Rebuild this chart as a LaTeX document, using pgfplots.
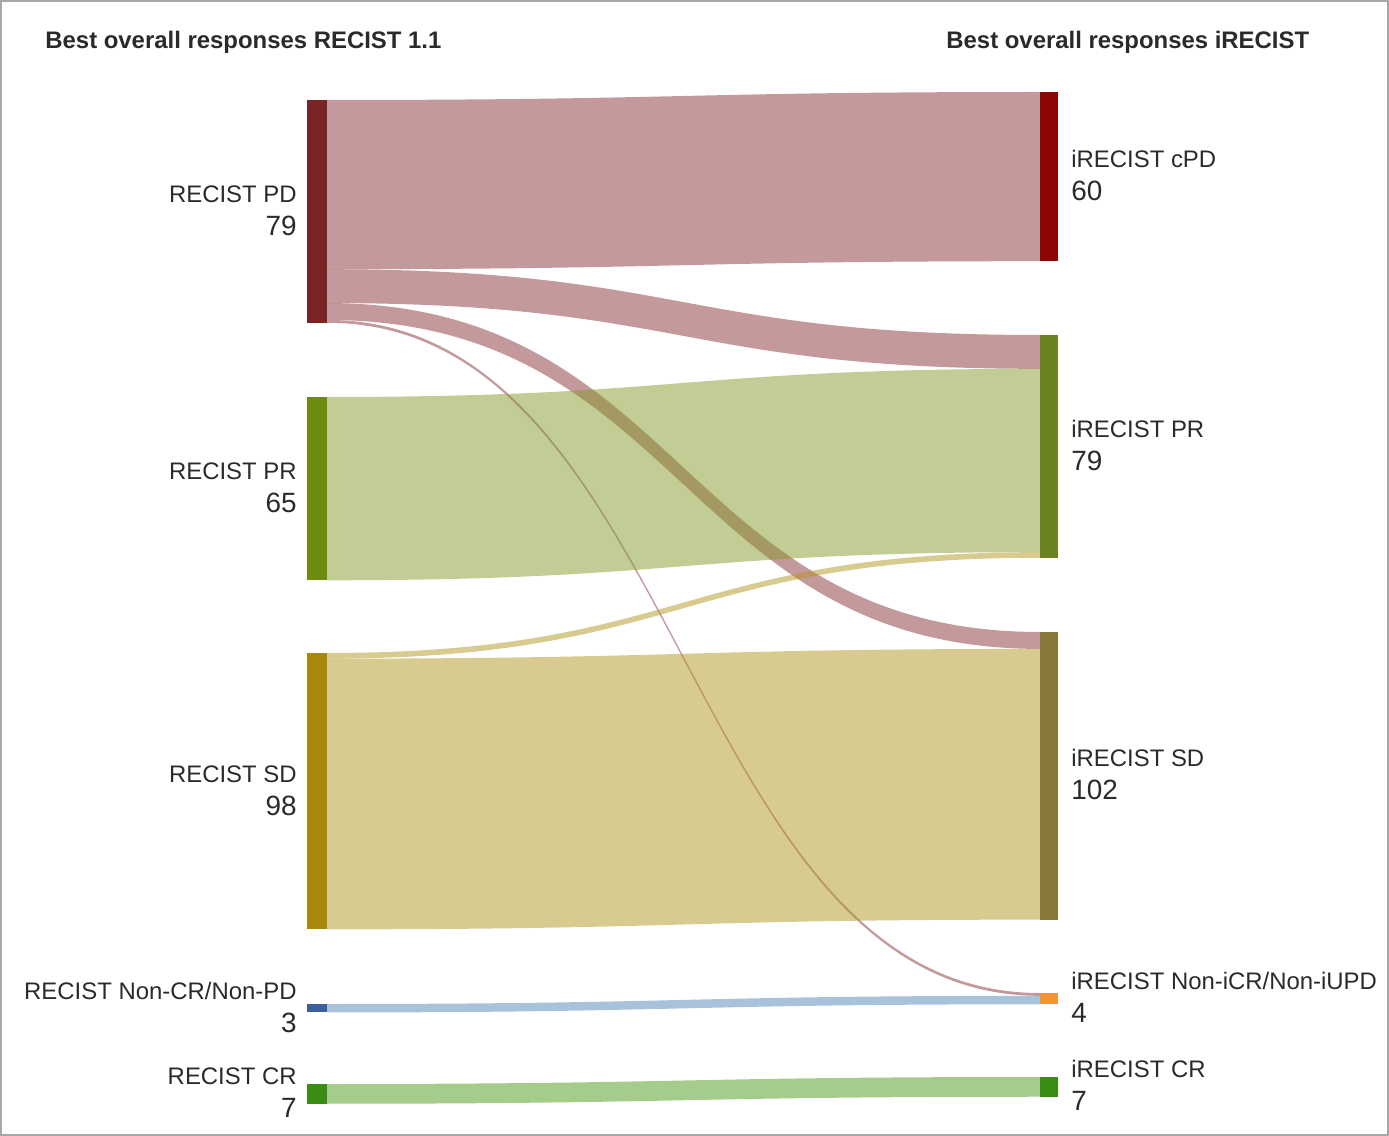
\documentclass[border=0pt]{standalone}
\usepackage{fontspec}
\setmainfont{Liberation Sans}
\usepackage{pgfplots}
\pgfplotsset{compat=1.18}

% bars
\definecolor{pdbar}{HTML}{7A2426}
\definecolor{cpdbar}{HTML}{8C0606}
\definecolor{prbarL}{HTML}{6E8C0E}
\definecolor{prbarR}{HTML}{6B8220}
\definecolor{sdbarL}{HTML}{A8880C}
\definecolor{sdbarR}{HTML}{877A38}
\definecolor{nonbarL}{HTML}{3D5E9C}
\definecolor{nonbarR}{HTML}{F39237}
\definecolor{crbar}{HTML}{3A8C14}
% flows (drawn at half opacity)
\definecolor{pdflow}{HTML}{893337}
\definecolor{prflow}{HTML}{859B2D}
\definecolor{sdflow}{HTML}{B1971F}
\definecolor{nonflow}{HTML}{5385B9}
\definecolor{crflow}{HTML}{4D9919}
\definecolor{framegray}{HTML}{A8A8A8}
\definecolor{txt}{HTML}{2A2A2A}

\newcommand\titlefont{\fontsize{12}{14}\selectfont\bfseries}
\newcommand\labfont{\fontsize{12}{14}\selectfont}
\newcommand\numfont{\fontsize{14}{16}\selectfont}

% layout, in pixels of the picture
\def\pxu{2.82}   % pixels per patient
\def\xL{327}     % right edge of the left bars
\def\xR{1040}    % left edge of the right bars
\def\xM{683.5}

% \flow{left node top}{left offset}{right node top}{right offset}{patients}{colour}
\newcommand\flow[6]{%
  \pgfmathsetmacro\fLT{#1+#2*\pxu}%
  \pgfmathsetmacro\fLB{#1+(#2+#5)*\pxu}%
  \pgfmathsetmacro\fRT{#3+#4*\pxu}%
  \pgfmathsetmacro\fRB{#3+(#4+#5)*\pxu}%
  \edef\temp{\noexpand\fill[#6, fill opacity=0.5]
    (axis cs:\xL,\fLT) .. controls (axis cs:\xM,\fLT) and (axis cs:\xM,\fRT) .. (axis cs:\xR,\fRT)
    -- (axis cs:\xR,\fRB) .. controls (axis cs:\xM,\fRB) and (axis cs:\xM,\fLB) .. (axis cs:\xL,\fLB) -- cycle;}%
  \temp}

% \nodebar{x0}{x1}{top}{patients}{colour}
\newcommand\nodebar[5]{%
  \pgfmathsetmacro\nbB{#3+#4*\pxu}%
  \edef\temp{\noexpand\addplot[draw=none, fill=#5] coordinates {(#1,#3) (#2,#3) (#2,\nbB) (#1,\nbB)} -- cycle;}%
  \temp}

% \leftnode{top}{patients}{name}{colour}
\newcommand\leftnode[4]{%
  \nodebar{307}{327}{#1}{#2}{#4}%
  \pgfmathsetmacro\ndC{#1+#2*\pxu/2}%
  \pgfmathsetmacro\ndA{\ndC-9}\pgfmathsetmacro\ndB{\ndC+24}%
  \edef\temp{\noexpand\node[anchor=base east, font=\noexpand\labfont, text=txt, inner sep=0pt] at (axis cs:297,\ndA) {#3};
    \noexpand\node[anchor=base east, font=\noexpand\numfont, text=txt, inner sep=0pt] at (axis cs:297,\ndB) {#2};}%
  \temp}

% \rightnode{top}{patients}{name}{colour}
\newcommand\rightnode[4]{%
  \nodebar{1040}{1058}{#1}{#2}{#4}%
  \pgfmathsetmacro\ndC{#1+#2*\pxu/2}%
  \pgfmathsetmacro\ndA{\ndC-9}\pgfmathsetmacro\ndB{\ndC+24}%
  \edef\temp{\noexpand\node[anchor=base west, font=\noexpand\labfont, text=txt, inner sep=0pt] at (axis cs:1071,\ndA) {#3};
    \noexpand\node[anchor=base west, font=\noexpand\numfont, text=txt, inner sep=0pt] at (axis cs:1071,\ndB) {#2};}%
  \temp}

\begin{document}
\begin{tikzpicture}
\begin{axis}[
    x=0.5bp, y=0.5bp,
    scale only axis,
    xmin=0, xmax=1389, ymin=0, ymax=1136,
    y dir=reverse,
    hide axis,
    clip=false
]
\path (axis cs:0,0) rectangle (axis cs:1389,1136);

% flows: left node top, offset, right node top, offset, patients
\flow{100}{0}{92}{0}{60}{pdflow}     % PD -> cPD
\flow{100}{60}{335}{0}{12}{pdflow}   % PD -> PR
\flow{100}{72}{632}{0}{6}{pdflow}    % PD -> SD
\flow{100}{78}{993}{0}{1}{pdflow}    % PD -> Non-iCR/Non-iUPD
\flow{397}{0}{335}{12}{65}{prflow}   % PR -> PR
\flow{653}{0}{335}{77}{2}{sdflow}    % SD -> PR
\flow{653}{2}{632}{6}{96}{sdflow}    % SD -> SD
\flow{1004}{0}{993}{1}{3}{nonflow}   % Non-CR/Non-PD -> Non-iCR/Non-iUPD
\flow{1084}{0}{1077}{0}{7}{crflow}   % CR -> CR

% nodes
\leftnode{100}{79}{RECIST PD}{pdbar}
\leftnode{397}{65}{RECIST PR}{prbarL}
\leftnode{653}{98}{RECIST SD}{sdbarL}
\leftnode{1004}{3}{RECIST Non-CR/Non-PD}{nonbarL}
\leftnode{1084}{7}{RECIST CR}{crbar}

\rightnode{92}{60}{iRECIST cPD}{cpdbar}
\rightnode{335}{79}{iRECIST PR}{prbarR}
\rightnode{632}{102}{iRECIST SD}{sdbarR}
\rightnode{993}{4}{iRECIST Non-iCR/Non-iUPD}{nonbarR}
\rightnode{1077}{7}{iRECIST CR}{crbar}

\node[anchor=base west, font=\titlefont, text=txt, inner sep=0pt] at (axis cs:45,49) {Best overall responses RECIST 1.1};
\node[anchor=base west, font=\titlefont, text=txt, inner sep=0pt] at (axis cs:946,49) {Best overall responses iRECIST};

\draw[framegray, line width=1bp] (axis cs:1.5,1.5) rectangle (axis cs:1387.5,1134.5);
\end{axis}
\end{tikzpicture}
\end{document}
